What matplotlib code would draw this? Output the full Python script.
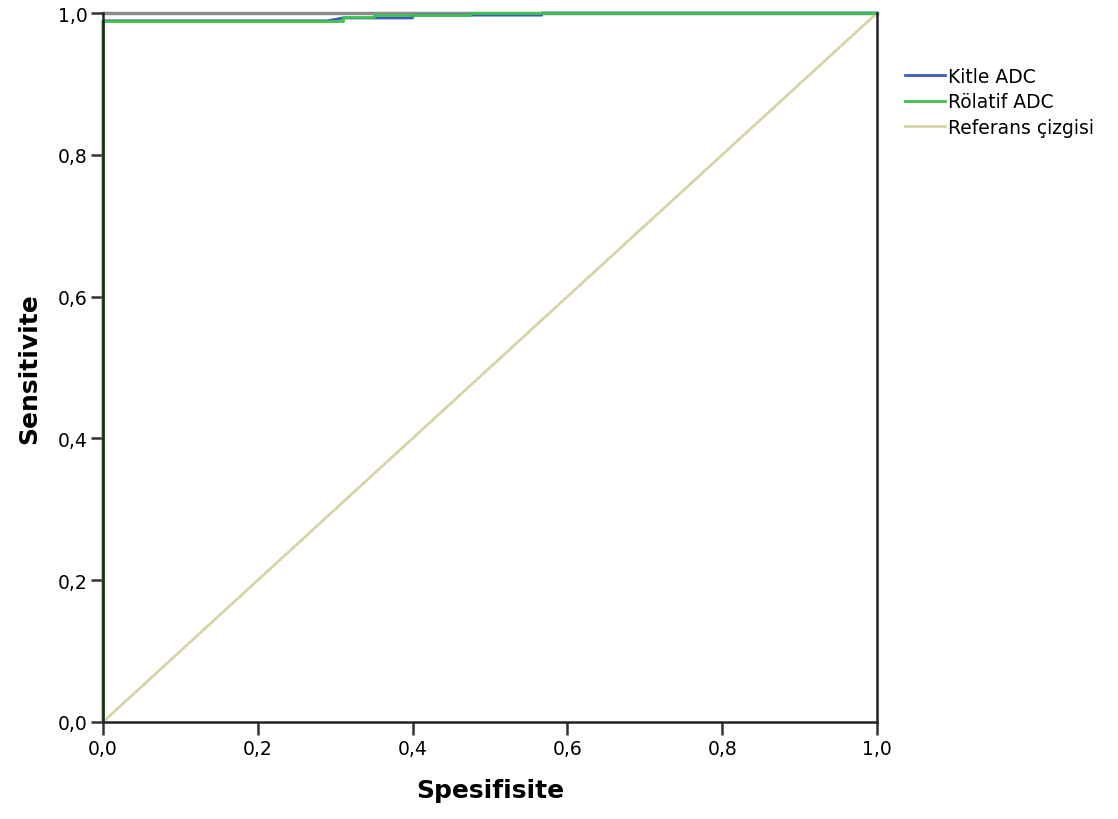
import numpy as np
import matplotlib.pyplot as plt

# ROC curve points (x = 1 - specificity, y = sensitivity)
kitle_x = [0.0, 0.0, 0.29, 0.31, 0.40, 0.40, 0.567, 0.567, 1.0]
kitle_y = [0.0, 0.989, 0.989, 0.993, 0.993, 0.997, 0.997, 1.0, 1.0]
rolatif_x = [0.0, 0.0, 0.31, 0.31, 0.35, 0.35, 0.474, 0.474, 1.0]
rolatif_y = [0.0, 0.989, 0.989, 0.994, 0.994, 0.997, 0.997, 1.0, 1.0]
ref_x = [0.0, 1.0]
ref_y = [0.0, 1.0]
ticks = [0.0, 0.2, 0.4, 0.6, 0.8, 1.0]
tick_labels = ["0,0", "0,2", "0,4", "0,6", "0,8", "1,0"]

plt.rcParams['font.family'] = ['DejaVu Sans']

fig = plt.figure(figsize=(11.18, 8.2), dpi=100)
ax = fig.add_axes([0.0921, 0.1183, 0.6923, 0.8646])

ax.plot(ref_x, ref_y, color="#d9d4a4", lw=2, label="Referans çizgisi", zorder=2)
ax.plot(kitle_x, kitle_y, color="#3c5cc0", lw=2, label="Kitle ADC", zorder=3, clip_on=False)
ax.plot(rolatif_x, rolatif_y, color="#3ec24e", lw=2, label="Rölatif ADC", zorder=4, clip_on=False)

ax.set_xlim(0, 1)
ax.set_ylim(0, 1)
ax.set_xticks(ticks)
ax.set_xticklabels(tick_labels)
ax.set_yticks(ticks)
ax.set_yticklabels(tick_labels)
ax.tick_params(direction="out", length=9, width=1.8, labelsize=13.5, color="#333333")
ax.tick_params(axis="y", pad=2)
ax.tick_params(axis="x", pad=3)

for side in ["left", "bottom", "right"]:
    ax.spines[side].set_color("#222222")
    ax.spines[side].set_linewidth(1.8)
    ax.spines[side].set_zorder(5)
ax.spines["top"].set_color("#8c8c8c")
ax.spines["top"].set_linewidth(2.5)
ax.spines["top"].set_zorder(1)

ax.set_xlabel("Spesifisite", fontsize=18, fontweight="bold", labelpad=15)
ax.set_ylabel("Sensitivite", fontsize=18, fontweight="bold", labelpad=12)

h, l = ax.get_legend_handles_labels()
order = [1, 2, 0]
ax.legend([h[i] for i in order], [l[i] for i in order],
          loc="upper left", bbox_to_anchor=(1.026, 0.935), frameon=False,
          fontsize=13.5, handlelength=2.13, handletextpad=0.16, labelspacing=0.35,
          borderaxespad=0)

fig.savefig("out.png", dpi=100)
